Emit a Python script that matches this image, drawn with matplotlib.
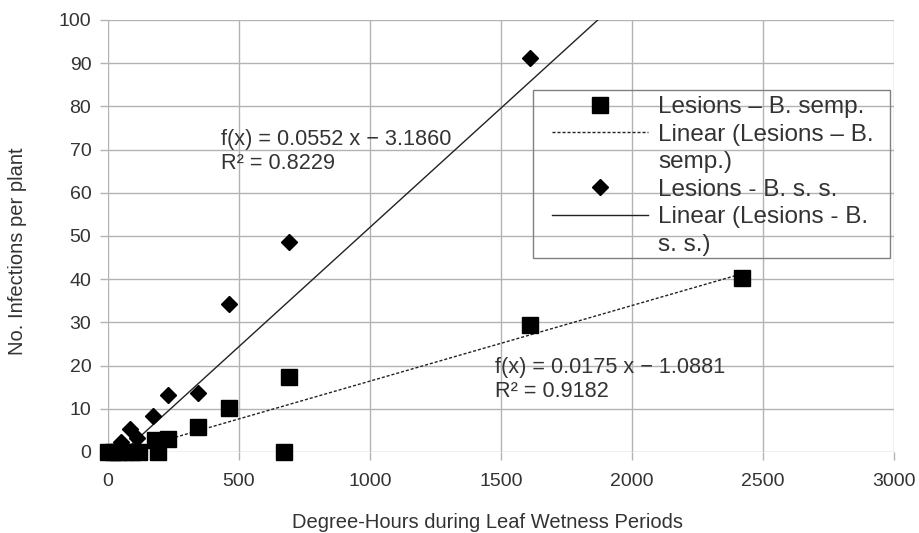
import matplotlib
matplotlib.use("Agg")
import matplotlib.pyplot as plt
from matplotlib.lines import Line2D
from matplotlib.patches import Rectangle
import numpy as np

# ---- data ----
x_semp = [0, 20, 40, 60, 90, 120, 180, 190, 230, 345, 460, 670, 690, 1610, 2420]
y_semp = [0, 0, 0, 0, 0, 0, 2.8, 0, 3.0, 5.7, 10.3, 0, 17.4, 29.5, 40.2]
x_sss = [0, 20, 50, 85, 110, 170, 230, 345, 460, 690, 1610]
y_sss = [0, 0, 2.3, 5.4, 3.2, 8.4, 13.1, 13.6, 34.3, 48.7, 91.1]
fit_semp = (0.0175, -1.0881, 0.9182)
fit_sss = (0.0552, -3.1860, 0.8229)
trend_x_range = (0, 2420)
x_ticks = [0, 500, 1000, 1500, 2000, 2500, 3000]
y_ticks = [0, 10, 20, 30, 40, 50, 60, 70, 80, 90, 100]
labels = ["Lesions \u2013 B. semp.", "Linear (Lesions \u2013 B.", "semp.)",
          "Lesions - B. s. s.", "Linear (Lesions - B.", "s. s.)"]
xlabel = "Degree-Hours during Leaf Wetness Periods"
ylabel = "No. Infections per plant"

plt.rcParams['font.family'] = ['Liberation Sans', 'DejaVu Sans']
TXT = '#333333'
GRID = '#b3b3b3'
W, H = 920, 533

fig = plt.figure(figsize=(9.2, 5.33), dpi=100)
ax = fig.add_axes([108/W, 1-452/H, 786/W, 432/H])
ax.set_xlim(0, 3000)
ax.set_ylim(0, 100)
ax.set_xticks(x_ticks)
ax.set_yticks(y_ticks)
ax.grid(True, color=GRID, linewidth=1.0)
ax.set_axisbelow(True)
for s in ax.spines.values():
    s.set_visible(False)
ax.tick_params(axis='both', colors=GRID, labelcolor=TXT, labelsize=14,
               length=6, width=1.0, direction='out')
ax.tick_params(axis='y', pad=6)
ax.tick_params(axis='x', pad=9)

xt = np.array(trend_x_range, dtype=float)
ax.plot(xt, fit_semp[0]*xt + fit_semp[1], color='#222222', linewidth=1.0,
        linestyle=(0, (2.2, 1.4)), zorder=3, clip_on=True)
ax.plot(xt, fit_sss[0]*xt + fit_sss[1], color='#222222', linewidth=1.0,
        linestyle='-', zorder=3, clip_on=True)
ax.plot(x_sss, y_sss, linestyle='none', marker='D', markersize=8.6,
        color='black', zorder=4, clip_on=False)
ax.plot(x_semp, y_semp, linestyle='none', marker='s', markersize=11.5,
        color='black', zorder=5, clip_on=False)

def eq_text(fit):
    return (f"f(x) = {fit[0]:.4f} x \u2212 {abs(fit[1]):.4f}", f"R\u00b2 = {fit[2]:.4f}")

e1 = eq_text(fit_sss)
ax.text(430, 71.1, e1[0], fontsize=15.6, color=TXT, va='baseline', ha='left')
ax.text(430, 65.4, e1[1], fontsize=15.6, color=TXT, va='baseline', ha='left')
e2 = eq_text(fit_semp)
ax.text(1477, 18.2, e2[0], fontsize=15.6, color=TXT, va='baseline', ha='left')
ax.text(1477, 12.7, e2[1], fontsize=15.6, color=TXT, va='baseline', ha='left')

ax.set_xlabel(xlabel, fontsize=14.5, color=TXT)
ax.xaxis.set_label_coords((488-108)/786, (452-523)/432)
ax.xaxis.label.set_va('center')
ax.set_ylabel(ylabel, fontsize=14.5, color=TXT)
ax.yaxis.set_label_coords((18-108)/786, (452-251)/432)
ax.yaxis.label.set_va('center')

blank = Line2D([], [], linestyle='none')
handles = [
    Line2D([], [], linestyle='none', marker='s', markersize=11.5, color='black'),
    Line2D([], [], linestyle=(0, (2.2, 1.4)), linewidth=1.0, color='#222222'),
    blank,
    Line2D([], [], linestyle='none', marker='D', markersize=8.6, color='black'),
    Line2D([], [], linestyle='-', linewidth=1.0, color='#222222'),
    blank,
]
leg = ax.legend(handles, labels, loc='upper left',
                bbox_to_anchor=(552/W, 1-96/H), bbox_transform=fig.transFigure,
                borderaxespad=0, fontsize=17.5, handlelength=3.95, handletextpad=0.41,
                labelspacing=0.23, borderpad=0.0, numpoints=1, frameon=False)
for t in leg.get_texts():
    t.set_color(TXT)

fig.patches.append(Rectangle((533/W, 1-258/H), (890-533)/W, (258-90)/H,
                             transform=fig.transFigure, facecolor='none',
                             edgecolor='#808080', linewidth=1.0, zorder=6))

fig.savefig("out.png", dpi=100)
